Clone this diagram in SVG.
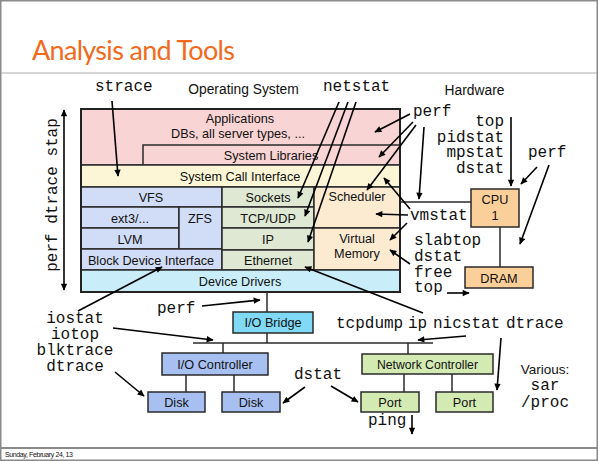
<svg xmlns="http://www.w3.org/2000/svg" width="598" height="461" viewBox="0 0 598 461">
<defs>
<marker id="ah" viewBox="0 0 10 10" refX="9" refY="5" markerWidth="8" markerHeight="7" orient="auto-start-reverse" markerUnits="userSpaceOnUse">
<path d="M0,0.5 L10,5 L0,9.5 z" fill="#000"/>
</marker>
</defs>
<style>
.box{stroke:#2a2a2a;stroke-width:1.5}
.t{font-family:"Liberation Sans",Arial,sans-serif;font-size:12.7px;fill:#111;text-anchor:middle}
.m{font-family:"Liberation Mono","Courier New",monospace;font-size:16px;fill:#111}
.a{stroke:#000;stroke-width:1.6;fill:none;marker-end:url(#ah)}
.l{stroke:#2a2a2a;stroke-width:1.5;fill:none}
.pink{fill:#f9d4d4}.yel{fill:#fcf6d7}.blu{fill:#d1ddf6}.grn{fill:#dee8d2}.pch{fill:#fcead1}.cyn{fill:#c9edf9}
.hw{fill:#fbcf9a}.br{fill:#80d9f5}.ctl{fill:#a7c0f1}.net{fill:#d3eab3}
</style>
<rect x="0" y="0" width="598" height="461" fill="#fff"/>
<rect x="0.75" y="0.75" width="596.5" height="459.5" fill="none" stroke="#8a8a8a" stroke-width="1.5"/>
<line x1="1" y1="73" x2="597" y2="73" stroke="#b0b0b0" stroke-width="1.2"/>
<line x1="1" y1="448" x2="597" y2="448" stroke="#8a8a8a" stroke-width="2"/>
<text x="32" y="60" font-family="Lato,'Open Sans',sans-serif" font-size="27" fill="#f26b1d" textLength="203">Analysis and Tools</text>
<text x="5" y="456.5" font-family="'Liberation Sans',Arial,sans-serif" font-size="7" fill="#111" textLength="68">Sunday, February 24, 13</text>

<text class="t" x="243.5" y="94" style="font-size:13.8px">Operating System</text>
<text class="t" x="474.5" y="95" style="font-size:13.8px">Hardware</text>

<g id="stack">
<rect class="box pink" x="81" y="109" width="319" height="56"/>
<rect class="box pink" x="143" y="145" width="257" height="20"/>
<rect class="box yel" x="81" y="165" width="319" height="22"/>
<rect class="box blu" x="81" y="187" width="141" height="20"/>
<rect class="box blu" x="81" y="207" width="98" height="21"/>
<rect class="box blu" x="81" y="228" width="98" height="21"/>
<rect class="box blu" x="179" y="207" width="43" height="42"/>
<rect class="box blu" x="81" y="249" width="141" height="21"/>
<rect class="box grn" x="222" y="187" width="92" height="20"/>
<rect class="box grn" x="222" y="207" width="92" height="21"/>
<rect class="box grn" x="222" y="228" width="92" height="22"/>
<rect class="box grn" x="222" y="250" width="92" height="20"/>
<rect class="box pch" x="314" y="187" width="86" height="41"/>
<rect class="box pch" x="314" y="228" width="86" height="42"/>
<rect class="box cyn" x="81" y="270" width="319" height="22"/>
<rect x="81" y="109" width="319" height="183" fill="none" stroke="#222" stroke-width="2"/>
<text class="t" x="240" y="123">Applications</text>
<text class="t" x="238" y="137.5">DBs, all server types, ...</text>
<text class="t" x="271" y="160">System Libraries</text>
<text class="t" x="240" y="181">System Call Interface</text>
<text class="t" x="151" y="202">VFS</text>
<text class="t" x="130" y="223">ext3/...</text>
<text class="t" x="200" y="223">ZFS</text>
<text class="t" x="130" y="243.5">LVM</text>
<text class="t" x="151" y="264.5">Block Device Interface</text>
<text class="t" x="240" y="286">Device Drivers</text>
<text class="t" x="268" y="202">Sockets</text>
<text class="t" x="268" y="223">TCP/UDP</text>
<text class="t" x="268" y="243.5">IP</text>
<text class="t" x="268" y="264.5">Ethernet</text>
<text class="t" x="357" y="201">Scheduler</text>
<text class="t" x="357" y="243">Virtual</text>
<text class="t" x="357" y="258">Memory</text>
</g>

<g id="cpu"><rect class="box hw" x="471" y="189" width="48" height="38"/>
<text class="t" x="495" y="204">CPU</text><text class="t" x="495" y="220">1</text></g>
<g id="dram"><rect class="box hw" x="465" y="267" width="68" height="21"/>
<text class="t" x="499" y="282.5">DRAM</text></g>
<g id="iobridge"><rect class="box br" x="233" y="312" width="80" height="21"/>
<text class="t" x="273" y="327">I/O Bridge</text></g>
<g id="iocontroller"><rect class="box ctl" x="162" y="353" width="106" height="22"/>
<text class="t" x="215" y="368.5">I/O Controller</text></g>
<g id="disk1"><rect class="box ctl" x="148" y="392" width="57" height="20"/>
<text class="t" x="176.5" y="407">Disk</text></g>
<g id="disk2"><rect class="box ctl" x="222" y="392" width="58" height="20"/>
<text class="t" x="251" y="407">Disk</text></g>
<g id="netcontroller"><rect class="box net" x="362" y="354" width="131" height="20"/>
<text class="t" x="427.5" y="368.5" style="font-size:12.2px">Network Controller</text></g>
<g id="port1"><rect class="box net" x="361" y="392" width="58" height="20"/>
<text class="t" x="390" y="406.5">Port</text></g>
<g id="port2"><rect class="box net" x="436" y="392" width="57" height="20"/>
<text class="t" x="464.5" y="406.5">Port</text></g>

<g id="labels">
<text class="m" x="95" y="91">strace</text>
<text class="m" x="323" y="91">netstat</text>
<text class="m" x="413" y="116">perf</text>
<text class="m" x="504" y="126" text-anchor="end">top</text>
<text class="m" x="504" y="142" text-anchor="end">pidstat</text>
<text class="m" x="504" y="157" text-anchor="end">mpstat</text>
<text class="m" x="504" y="173" text-anchor="end">dstat</text>
<text class="m" x="528" y="157">perf</text>
<text class="m" x="410" y="220">vmstat</text>
<text class="m" x="414" y="245">slabtop</text>
<text class="m" x="414" y="261">dstat</text>
<text class="m" x="414" y="277">free</text>
<text class="m" x="414" y="292">top</text>
<text class="m" x="157" y="313">perf</text>
<text class="m" x="75" y="323" text-anchor="middle">iostat</text>
<text class="m" x="75" y="339" text-anchor="middle">iotop</text>
<text class="m" x="75" y="355" text-anchor="middle">blktrace</text>
<text class="m" x="75" y="371" text-anchor="middle">dtrace</text>
<text class="m" x="336" y="328">tcpdump</text>
<text class="m" x="408" y="328">ip</text>
<text class="m" x="433" y="328">nicstat</text>
<text class="m" x="506" y="328">dtrace</text>
<text class="m" x="294" y="379">dstat</text>
<text class="m" x="368" y="425">ping</text>
<text class="t" x="545" y="374" style="font-size:13.5px">Various:</text>
<text class="m" x="545" y="390" text-anchor="middle">sar</text>
<text class="m" x="545" y="407" text-anchor="middle">/proc</text>
<text class="m" transform="translate(57,195) rotate(-90)" text-anchor="middle">perf dtrace stap</text>
</g>

<g id="connectors">
<line class="l" x1="400" y1="202" x2="471" y2="202"/>
<line class="l" x1="500" y1="227" x2="500" y2="267"/>
<line class="l" x1="267" y1="292" x2="267" y2="312"/>
<line class="l" x1="267" y1="333" x2="267" y2="343"/>
<line class="l" x1="193" y1="343" x2="433" y2="343"/>
<line class="l" x1="223" y1="343" x2="223" y2="353"/>
<line class="l" x1="408" y1="343" x2="408" y2="354"/>
<line class="l" x1="186" y1="375" x2="186" y2="392"/>
<line class="l" x1="234" y1="375" x2="234" y2="392"/>
<line class="l" x1="404" y1="374" x2="404" y2="392"/>
<line class="l" x1="452" y1="374" x2="452" y2="392"/>
<line class="a" x1="64" y1="200" x2="64" y2="110"/>
<line class="a" x1="64" y1="200" x2="64" y2="290"/>
<line class="a" x1="112" y1="101" x2="118" y2="176"/>
<line class="a" x1="339" y1="102" x2="298" y2="198"/>
<line class="a" x1="348" y1="102" x2="305" y2="216"/>
<line class="a" x1="356" y1="102" x2="308" y2="242"/>
<line class="a" x1="410" y1="114" x2="375" y2="132"/>
<line class="a" x1="413" y1="122" x2="379" y2="157"/>
<line class="a" x1="416" y1="125" x2="367" y2="190"/>
<line class="a" x1="424" y1="127" x2="419" y2="199"/>
<line class="a" x1="511" y1="117" x2="511" y2="186"/>
<line class="a" x1="537" y1="167" x2="521" y2="184"/>
<line class="a" x1="549" y1="165" x2="520" y2="244"/>
<line class="a" x1="410" y1="209" x2="384" y2="178"/>
<line class="a" x1="408" y1="215" x2="376" y2="214"/>
<line class="a" x1="407" y1="223" x2="390" y2="240"/>
<line class="a" x1="410" y1="264" x2="390" y2="250"/>
<line class="a" x1="447" y1="293" x2="469" y2="293"/>
<line class="a" x1="423" y1="313" x2="305" y2="267"/>
<line class="a" x1="202" y1="306" x2="260" y2="300"/>
<line class="a" x1="78" y1="311" x2="162" y2="267"/>
<line class="a" x1="113" y1="328" x2="213" y2="340"/>
<line class="a" x1="115" y1="372" x2="144" y2="396"/>
<line class="a" x1="466" y1="336" x2="418" y2="340"/>
<line class="a" x1="501" y1="338" x2="497" y2="390"/>
<line class="a" x1="305" y1="387" x2="283" y2="403"/>
<line class="a" x1="331" y1="386" x2="358" y2="402"/>
<line class="a" x1="412" y1="415" x2="412" y2="434"/>
</g>
</svg>
